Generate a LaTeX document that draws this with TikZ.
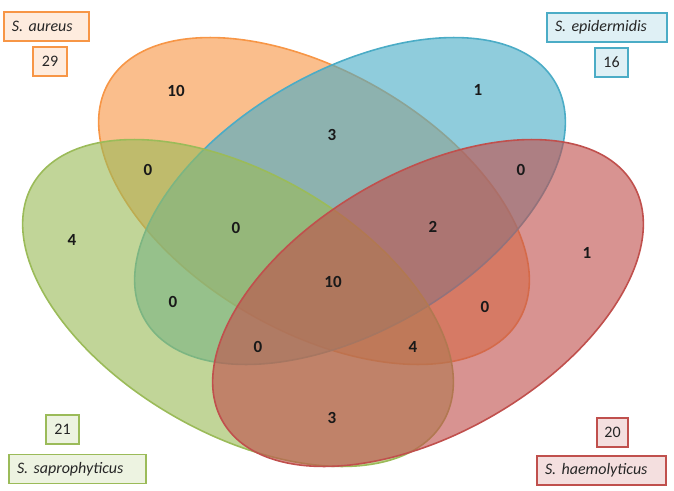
\documentclass[tikz,border=0pt]{standalone}
\usepackage{fontspec}
\setmainfont{Carlito}
\definecolor{ora}{HTML}{F79646}
\definecolor{blu}{HTML}{4BACC6}
\definecolor{grn}{HTML}{9BBB59}
\definecolor{rd}{HTML}{C0504D}
\begin{document}
\begin{tikzpicture}[x=1pt,y=-1pt,
  venn/.style={line width=1.6pt, fill opacity=0.62},
  num/.style={font=\fontsize{17}{20}\selectfont\bfseries, inner sep=0pt, text=black!90},
  lab/.style={draw=#1, fill=#1!18, line width=1.4pt, font=\fontsize{16}{19}\selectfont\itshape,
              inner xsep=8pt, inner ysep=0pt, minimum height=29pt, align=left, text=black!85},
  cnt/.style={draw=#1, fill=#1!18, line width=1.4pt, font=\fontsize{16}{19}\selectfont,
              inner sep=0pt, minimum height=29pt, minimum width=33pt, text=black!85}]
\useasboundingbox (0,0) rectangle (674,490);
% ellipses
\path[venn, draw=ora, fill=ora, rotate around={-30:(314,201)}] (314,201) ellipse [x radius=237, y radius=130];
\path[venn, draw=blu, fill=blu, rotate around={30:(350,201)}] (350,201) ellipse [x radius=237, y radius=130];
\path[venn, draw=grn, fill=grn, rotate around={-30:(238,303)}] (238,303) ellipse [x radius=237, y radius=130];
\path[venn, draw=rd, fill=rd, rotate around={30:(428,303)}] (428,303) ellipse [x radius=237, y radius=130];
% numbers
\node[num] (n1) at (176,91) {10};
\node[num] (n2) at (478,90) {1};
\node[num] (n3) at (332,135) {3};
\node[num] (n4) at (148,170) {0};
\node[num] (n5) at (521,170) {0};
\node[num] (n6) at (72,240) {4};
\node[num] (n7) at (236,228) {0};
\node[num] (n8) at (433,227) {2};
\node[num] (n9) at (587,253) {1};
\node[num] (n10) at (333,282) {10};
\node[num] (n11) at (173,302) {0};
\node[num] (n12) at (485,307) {0};
\node[num] (n13) at (258,347) {0};
\node[num] (n14) at (413,347) {4};
\node[num] (n15) at (332,418) {3};
% labels
\node[lab=ora, text width=69pt] (la) at (46.5,26.5) {S. aureus};
\node[cnt=ora, minimum width=34pt] (ca) at (50,61.5) {29};
\node[lab=blu, text width=104pt] (le) at (607,27.5) {S. epidermidis};
\node[cnt=blu] (ce) at (611.5,62.5) {16};
\node[cnt=grn] (cs) at (62.5,429.5) {21};
\node[lab=grn, text width=121pt] (ls) at (77.5,469) {S. saprophyticus};
\node[cnt=rd, minimum width=31pt] (ch) at (612.5,432.5) {20};
\node[lab=rd, text width=113pt] (lh) at (601.5,470.5) {S. haemolyticus};
\end{tikzpicture}
\end{document}
